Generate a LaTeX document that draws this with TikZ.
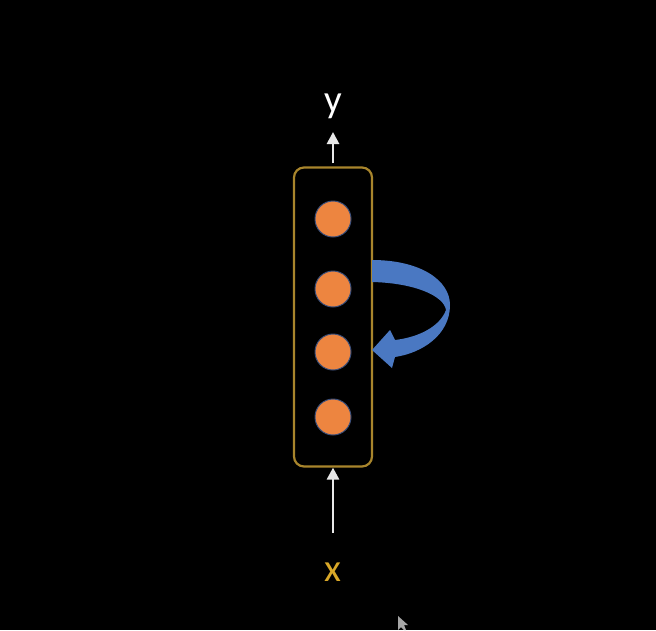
\documentclass[tikz,border=0pt]{standalone}
\usepackage{fontspec}
\setmainfont{Carlito}
\usetikzlibrary{arrows.meta}
\definecolor{boxgold}{HTML}{A8852C}
\definecolor{labgold}{HTML}{D9A828}
\definecolor{unitorange}{HTML}{ED8540}
\definecolor{unitedge}{HTML}{3B4F7A}
\definecolor{loopblue}{HTML}{4A78C2}
\definecolor{arrowwhite}{HTML}{E8E8E8}
\begin{document}
\begin{tikzpicture}[x=1pt,y=-1pt,
  layerbox/.style={draw=boxgold,line width=2.2pt,rounded corners=10pt,minimum width=78pt,minimum height=299pt,inner sep=0pt},
  unit/.style={circle,fill=unitorange,draw=unitedge,line width=1pt,minimum size=36pt,inner sep=0pt},
  lab/.style={font=\fontsize{39}{39}\selectfont,inner sep=0pt},
  flow/.style={draw=arrowwhite,line width=2.7pt,-{Triangle[length=12pt,width=12pt]}}]
\fill[black] (0,0) rectangle (656,630);
\useasboundingbox (0,0) rectangle (656,630);
\node[layerbox] (box) at (333,317) {};
\node[unit] (c1) at (333,219) {};
\node[unit] (c2) at (333,289) {};
\node[unit] (c3) at (333,352) {};
\node[unit] (c4) at (333,417) {};
\node[lab,text=white] (ylab) at (333,106) {y};
\node[lab,text=labgold] (xlab) at (333,572) {x};
\coordinate (ytip) at (333,132);
\coordinate (xstart) at (333,533);
\draw[flow] (box.north) ++(0,-3) -- (ytip);
\draw[flow] (xstart) -- (box.south);
% recurrent curved arrow
\fill[loopblue] (372,260) .. controls (420,260) and (450,280) .. (450,305)
  .. controls (450,335) and (422,353) .. (395,357)
  -- (392,368) -- (372,350) -- (390,330) -- (395,340)
  .. controls (420,337) and (440,326) .. (446,310)
  .. controls (444,296) and (415,283) .. (372,282) -- cycle;
% mouse cursor
\fill[gray!70] (398,616) -- (398,630) -- (401,627) -- (404,630) -- (406,630) -- (404,625) -- (408,625) -- cycle;
\end{tikzpicture}
\end{document}
